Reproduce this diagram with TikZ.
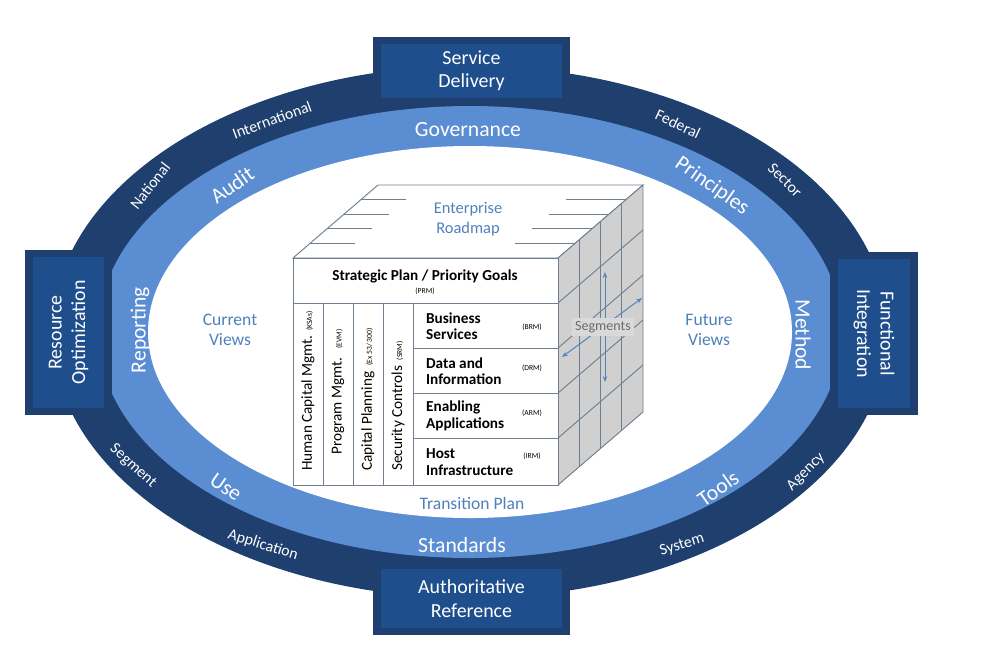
\documentclass[tikz,border=0pt]{standalone}
\usepackage{fontspec}
\setmainfont{Carlito}
\usetikzlibrary{arrows.meta}
\definecolor{navy}{HTML}{1F3F6E}
\definecolor{ring}{HTML}{5B8DD3}
\definecolor{boxblue}{HTML}{1F4E8C}
\definecolor{txtblue}{HTML}{4F81BD}
\definecolor{sidegray}{HTML}{D0D0D0}
\definecolor{edge}{HTML}{6F7F8F}
\tikzset{
  outer/.style={text=white,font=\fontsize{13.5}{13.5}\selectfont},
  mid/.style={text=white,font=\fontsize{18.5}{18.5}\selectfont},
  inner/.style={text=txtblue,font=\fontsize{15}{17}\selectfont,align=center},
  bx/.style={text=white,font=\fontsize{17}{20}\selectfont,align=center},
  cell/.style={font=\fontsize{13}{14}\selectfont\bfseries,align=left,anchor=west},
  tag/.style={font=\fontsize{6.5}{6.5}\selectfont},
  vtext/.style={rotate=90,font=\fontsize{13}{13}\selectfont},
  face/.style={draw=edge,line width=0.8pt}
}
\begin{document}
\begin{tikzpicture}[x=0.03cm,y=-0.03cm]
\useasboundingbox (0,0) rectangle (987,658);
\fill[navy] (470,332) ellipse [x radius=418, y radius=266];
\fill[ring] (470,332) ellipse [x radius=372, y radius=226];
\fill[white] (470,332) ellipse [x radius=322, y radius=186];
% boxes
\foreach \n/\a/\b/\c/\d/\t/\r in {sd/373/37/570/105/{Service\\Delivery}/0, ar/373/562/570/635/{Authoritative\\Reference}/0, ro/25/250/112/415/{Resource\\Optimization}/90, fi/830/252/918/415/{Functional\\Integration}/-90}{
  \fill[navy] (\a,\b) rectangle (\c,\d);
  \fill[boxblue] (\a+8,\b+7) rectangle (\c-8,\d-7);
  \node[bx,rotate=\r] (\n) at ({(\a+\c)/2},{(\b+\d)/2}) {\t};
}
% outer ring labels
\node[outer,rotate=20] (l1) at (272,120) {International};
\node[outer,rotate=52] (l2) at (150,186) {National};
\node[outer,rotate=-25] (l3) at (678,124) {Federal};
\node[outer,rotate=-45] (l4) at (785,180) {Sector};
\node[outer,rotate=-42] (l5) at (133,466) {Segment};
\node[outer,rotate=-17] (l6) at (263,545) {Application};
\node[outer,rotate=17] (l7) at (682,545) {System};
\node[outer,rotate=45] (l8) at (806,472) {Agency};
% mid ring labels
\node[mid] (m1) at (468,130) {Governance};
\node[mid,rotate=35] (m2) at (232,185) {Audit};
\node[mid,rotate=-35] (m3) at (712,186) {Principles};
\node[mid,rotate=90] (m4) at (140,330) {Reporting};
\node[mid,rotate=-90] (m5) at (803,335) {Method};
\node[mid,rotate=-35] (m6) at (226,487) {Use};
\node[mid,rotate=35] (m7) at (718,488) {Tools};
\node[mid] (m8) at (462,545) {Standards};
% inner labels
\node[inner] (cv) at (230,330) {Current\\Views};
\node[inner] (fv) at (709,330) {Future\\Views};
\node[inner] (tp) at (472,503) {Transition Plan};
% cube
\def\dx{85}\def\dy{-73}
\filldraw[face,fill=white] (293,258) -- (293+\dx,258+\dy) -- (558+\dx,258+\dy) -- (558,258) -- cycle;
\filldraw[face,fill=sidegray] (558,258) -- (558+\dx,258+\dy) -- (558+\dx,485+\dy) -- (558,485) -- cycle;
\foreach \t in {0.25,0.5,0.75}{
  \draw[face] (558+\t*\dx,258+\t*\dy) -- (558+\t*\dx,485+\t*\dy);
}
\foreach \t in {0.2,0.4,0.6,0.8}{
  \draw[face] (293+\t*\dx,258+\t*\dy) -- (293+\t*\dx+45,258+\t*\dy);
  \draw[face] (558+\t*\dx-60,258+\t*\dy) -- (558+\t*\dx,258+\t*\dy);
}
\foreach \y in {303,348,393,438}{
  \draw[face] (558,\y) -- (558+\dx,\y+\dy);
}
\node[inner,font=\fontsize{14}{17}\selectfont] (er) at (468,219) {Enterprise\\Roadmap};
\filldraw[face,fill=white] (293,258) rectangle (558,485);
\draw[face] (293,303) -- (558,303);
\foreach \x in {323,353,383,413}{\draw[face] (\x,303) -- (\x,485);}
\foreach \y in {348,393,438}{\draw[face] (413,\y) -- (558,\y);}
\node[font=\fontsize{13}{13}\selectfont\bfseries] (sp) at (425,276) {Strategic Plan / Priority Goals};
\node[tag] (prm) at (425,291) {(PRM)};
\node[cell] (bs) at (422,326) {Business\\Services};
\node[cell] (di) at (422,371) {Data and\\Information};
\node[cell] (ea) at (422,416) {Enabling\\Applications};
\node[cell] (hi) at (422,462) {Host\\Infrastructure};
\node[tag] at (532,327) {(BRM)};
\node[tag] at (532,368) {(DRM)};
\node[tag] at (532,413) {(ARM)};
\node[tag] at (532,456) {(IRM)};
\node[vtext,anchor=west] (hc) at (308,475) {Human Capital Mgmt. {\fontsize{6.5}{6.5}\selectfont(KSAs)}};
\node[vtext,anchor=west] (pm) at (338,459) {Program Mgmt. \hspace{4pt}{\fontsize{6.5}{6.5}\selectfont(EVM)}};
\node[vtext,anchor=west] (cp) at (368,475) {Capital Planning \hspace{2pt}{\fontsize{6.5}{6.5}\selectfont(Ex 53/ 300)}};
\node[vtext,anchor=west] (sc) at (398,475) {Security Controls \hspace{2pt}{\fontsize{6.5}{6.5}\selectfont(SRM)}};
% segments
\draw[txtblue,line width=0.8pt,{Stealth[length=5pt]}-{Stealth[length=5pt]}] (605,272) -- (605,382);
\draw[txtblue,line width=0.8pt,{Stealth[length=5pt]}-{Stealth[length=5pt]}] (562,357) -- (642,298);
\node[fill=sidegray!80,text=gray!85!black,font=\fontsize{12}{12}\selectfont,inner sep=3pt] (sg) at (603,327) {Segments};
\end{tikzpicture}
\end{document}
